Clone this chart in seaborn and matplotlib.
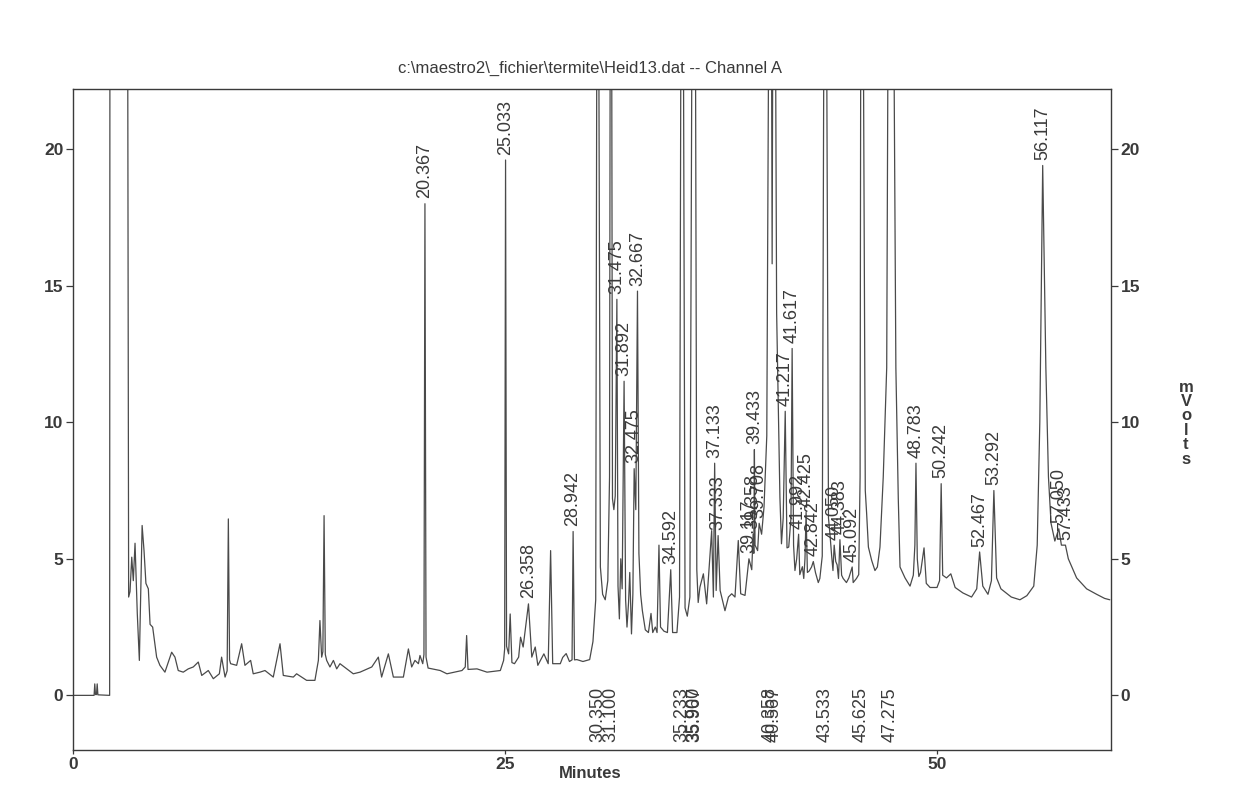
import matplotlib
matplotlib.use("Agg")
import matplotlib.pyplot as plt
import seaborn as sns
import numpy as np
import pandas as pd

# ---------------- data ----------------
title_text = r"c:\maestro2\_fichier\termite\Heid13.dat -- Channel A"

trace_minutes = [
    0.00, 1.22, 1.26, 1.30, 1.36, 1.40, 1.44, 2.12, 2.14, 3.15, 3.22, 3.30, 3.40, 3.49, 3.59, 3.72, 3.84,
    4.00, 4.11, 4.22, 4.36, 4.46, 4.61, 4.84, 5.03, 5.32, 5.71, 5.90, 6.09, 6.38, 6.67, 6.96, 7.25, 7.45,
    7.83, 8.12, 8.47, 8.60, 8.80, 8.92, 8.99, 9.06, 9.12, 9.47, 9.76, 9.95, 10.28, 10.43, 10.82, 11.11,
    11.59, 11.98, 12.17, 12.75, 12.94, 13.52, 14.00, 14.20, 14.29, 14.39, 14.46, 14.53, 14.60, 14.68,
    14.87, 15.07, 15.26, 15.45, 15.84, 16.22, 16.61, 17.29, 17.67, 17.86, 18.25, 18.54, 19.12, 19.41,
    19.60, 19.79, 19.99, 20.08, 20.24, 20.31, 20.367, 20.43, 20.55, 21.25, 21.64, 22.51, 22.70, 22.78,
    22.86, 23.38, 23.96, 24.73, 24.92, 24.98, 25.033, 25.09, 25.21, 25.30, 25.40, 25.55, 25.79, 25.90,
    26.05, 26.358, 26.55, 26.75, 26.90, 27.25, 27.50, 27.64, 27.76, 28.20, 28.34, 28.54, 28.73, 28.88,
    28.942, 29.02, 29.16, 29.51, 29.90, 30.09, 30.25, 30.33, 30.40, 30.52, 30.65, 30.80, 30.95, 31.05,
    31.10, 31.16, 31.22, 31.30, 31.38, 31.475, 31.54, 31.62, 31.70, 31.78, 31.892, 31.98, 32.06, 32.15,
    32.22, 32.32, 32.40, 32.475, 32.57, 32.667, 32.75, 32.85, 32.95, 33.12, 33.30, 33.45, 33.55, 33.70,
    33.80, 33.91, 34.00, 34.20, 34.40, 34.592, 34.70, 34.95, 35.10, 35.20, 35.30, 35.42, 35.55, 35.70,
    35.85, 36.00, 36.10, 36.18, 36.28, 36.48, 36.67, 36.96, 37.06, 37.133, 37.22, 37.333, 37.45, 37.73,
    37.93, 38.12, 38.31, 38.50, 38.64, 38.89, 39.117, 39.28, 39.358, 39.40, 39.433, 39.47, 39.62, 39.708,
    39.85, 39.99, 40.15, 40.30, 40.40, 40.46, 40.52, 40.62, 40.72, 40.91, 41.00, 41.10, 41.217, 41.32,
    41.42, 41.55, 41.617, 41.70, 41.78, 41.88, 41.992, 42.06, 42.21, 42.29, 42.36, 42.425, 42.50, 42.60,
    42.74, 42.842, 42.97, 43.13, 43.22, 43.36, 43.48, 43.58, 43.72, 43.81, 43.90, 43.98, 44.050, 44.14,
    44.22, 44.30, 44.383, 44.48, 44.57, 44.76, 44.90, 45.092, 45.15, 45.34, 45.47, 45.55, 45.60, 45.70,
    45.85, 45.93, 46.03, 46.22, 46.41, 46.55, 46.70, 46.89, 47.09, 47.20, 47.45, 47.62, 47.76, 47.86,
    48.15, 48.44, 48.63, 48.72, 48.783, 48.86, 48.95, 49.05, 49.25, 49.38, 49.60, 50.00, 50.15, 50.242,
    50.33, 50.55, 50.80, 51.05, 51.50, 52.00, 52.30, 52.467, 52.65, 52.95, 53.15, 53.292, 53.45, 53.70,
    54.30, 54.80, 55.20, 55.60, 55.80, 55.95, 56.117, 56.30, 56.45, 56.60, 56.82, 57.050, 57.20, 57.433,
    57.60, 58.08, 58.66, 59.24, 59.70, 60.00,
]
trace_mvolts = [
    0.00, 0.00, 0.42, 0.03, 0.03, 0.42, 0.02, 0.00, 30.0, 30.0, 3.60, 3.80, 5.06, 4.20, 5.57, 3.00, 1.28,
    6.22, 5.30, 4.10, 3.90, 2.60, 2.50, 1.40, 1.10, 0.85, 1.58, 1.40, 0.91, 0.85, 0.97, 1.04, 1.22, 0.73,
    0.91, 0.61, 0.79, 1.40, 0.67, 0.90, 6.46, 1.30, 1.16, 1.10, 1.89, 1.10, 1.28, 0.79, 0.85, 0.91,
    0.67, 1.89, 0.73, 0.67, 0.79, 0.55, 0.55, 1.28, 2.74, 1.40, 1.60, 6.58, 1.50, 1.28,
    1.04, 1.28, 0.97, 1.16, 0.97, 0.79, 0.85, 1.04, 1.40, 0.67, 1.52, 0.67, 0.67, 1.70,
    1.04, 1.28, 1.16, 1.46, 1.16, 1.50, 18.0, 1.40, 1.00, 0.91, 0.79, 0.91, 1.04, 2.19,
    0.95, 0.97, 0.85, 0.91, 1.28, 1.70, 19.6, 1.80, 1.52, 2.98, 1.20, 1.16, 1.40, 2.13,
    1.77, 3.35, 1.40, 1.77, 1.10, 1.52, 1.16, 5.30, 1.16, 1.16, 1.39, 1.53, 1.24, 1.30,
    6.00, 1.30, 1.31, 1.24, 1.31, 1.97, 3.50, 30.0, 30.0, 4.70, 3.70, 3.50, 4.20, 8.00,
    30.0, 30.0, 7.20, 6.80, 7.30, 14.5, 4.00, 2.80, 5.00, 3.90, 11.5, 3.50, 2.50, 3.40,
    4.50, 2.25, 3.70, 8.30, 6.80, 14.8, 5.20, 3.70, 3.10, 2.40, 2.30, 3.00, 2.30, 2.50,
    2.30, 5.50, 2.50, 2.35, 2.30, 4.60, 2.30, 2.30, 3.60, 30.0, 30.0, 3.20, 2.90, 3.60,
    30.0, 30.0, 4.60, 3.40, 3.96, 4.45, 3.35, 6.03, 3.60, 8.50, 3.84, 5.85, 3.84, 3.10,
    3.60, 3.72, 3.60, 5.67, 3.72, 3.66, 5.00, 4.60, 5.90, 5.20, 9.00, 5.50, 5.30, 6.30,
    5.90, 6.90, 9.50, 30.0, 30.0, 15.8, 30.0, 30.0, 14.0, 7.25, 5.55, 6.50, 10.4, 5.40,
    5.43, 6.50, 12.7, 5.50, 4.57, 5.00, 5.90, 4.42, 4.71, 4.28, 5.00, 6.70, 4.50, 4.55,
    4.70, 4.90, 4.49, 4.13, 4.28, 5.10, 30.0, 30.0, 6.50, 5.87, 5.14, 4.57, 5.50, 4.90,
    4.78, 4.28, 5.70, 4.40, 4.28, 4.13, 4.30, 4.70, 4.13, 4.28, 4.42, 8.00, 30.0, 30.0,
    7.50, 6.64, 5.43, 4.94, 4.57, 4.70, 5.43, 8.00, 12.0, 30.0, 30.0, 12.0, 7.20, 4.70,
    4.30, 4.00, 4.40, 5.50, 8.50, 5.00, 4.35, 4.50, 5.40, 4.10, 3.95, 3.95, 4.20, 7.75,
    4.40, 4.30, 4.45, 3.95, 3.75, 3.60, 3.90, 5.25, 4.00, 3.70, 4.20, 7.50, 4.30, 3.90,
    3.60, 3.50, 3.65, 4.00, 5.50, 10.0, 19.4, 12.0, 8.00, 6.30, 5.65, 6.10, 5.50, 5.50,
    5.00, 4.30, 3.90, 3.70, 3.55, 3.50,
]

# retention times labelled above their apex
top_label_times = [20.367, 25.033, 26.358, 28.942, 31.475, 31.892, 32.475, 32.667, 34.592,
                   37.133, 37.333, 39.117, 39.358, 39.433, 39.708, 41.217, 41.617, 41.992,
                   42.425, 42.842, 44.050, 44.383, 45.092, 48.783, 50.242, 52.467, 53.292,
                   56.117, 57.050, 57.433]
# retention times of off-scale peaks, labelled along the bottom
bottom_label_times = [30.350, 31.100, 35.233, 35.900, 35.967, 40.358, 40.567, 43.533,
                      45.625, 47.275]

x_ticks = [0, 25, 50]
y_ticks = [0, 5, 10, 15, 20]
x_label = "Minutes"
y_label = "mVolts"

# ---------------- drawing ----------------
sns.set_theme(style="ticks")
plt.rcParams["font.family"] = ["Liberation Sans", "DejaVu Sans"]

ink = "#3a3a3a"
line_col = "#4a4a4a"

fig = plt.figure(figsize=(12.39, 7.87), dpi=100)
fig.patch.set_facecolor("white")
ax = fig.add_axes([73 / 1239, 1 - 750 / 787, (1111 - 73) / 1239, (750 - 89) / 787])

df = pd.DataFrame({"Minutes": trace_minutes, "mVolts": trace_mvolts})
sns.lineplot(data=df, x="Minutes", y="mVolts", sort=False, estimator=None,
             color=line_col, linewidth=0.9, ax=ax)

ax.set_xlim(0, 60.07)
ax.set_ylim(-2.0, 22.2)
ax.set_xticks(x_ticks)
ax.set_yticks(y_ticks)
ax.set_xlabel("")
ax.set_ylabel("")

for s in ax.spines.values():
    s.set_color(ink)
    s.set_linewidth(1.0)
    s.set_visible(True)

ax.tick_params(axis="y", which="both", left=True, right=True, labelleft=True,
               labelright=True, direction="out", length=5, width=0.9, color=ink,
               labelsize=12.5, labelcolor=ink, pad=2)
ax.tick_params(axis="x", direction="out", length=3, width=0.9, color=ink,
               labelsize=12.5, labelcolor=ink, pad=2)
for lab in ax.get_xticklabels() + ax.get_yticklabels():
    lab.set_fontweight("bold")
for lab in ax.yaxis.get_ticklabels(which="both"):
    lab.set_fontweight("bold")
for t in ax.yaxis.get_major_ticks():
    t.label2.set_fontweight("bold")

# peak labels
tm = np.array(trace_minutes)
mv = np.array(trace_mvolts)
for t in top_label_times:
    h = mv[np.abs(tm - t) < 0.004].max()
    ax.text(t, h + 0.2, f"{t:.3f}", rotation=90, ha="center", va="bottom",
            fontsize=13, color=ink, clip_on=False)
for t in bottom_label_times:
    ax.text(t, -1.72, f"{t:.3f}", rotation=90, ha="center", va="bottom",
            fontsize=13, color=ink)

fig.text(590 / 1239, 1 - 68 / 787, title_text, ha="center", va="center",
         fontsize=12, color=ink)
fig.text(590 / 1239, 1 - 774 / 787, x_label, ha="center", va="center",
         fontsize=12, fontweight="bold", color=ink)
fig.text(1186 / 1239, 1 - 423 / 787, "\n".join(y_label), ha="center", va="center",
         fontsize=12, fontweight="bold", color=ink, linespacing=0.95)

fig.savefig("out.png", dpi=100, facecolor="white")
